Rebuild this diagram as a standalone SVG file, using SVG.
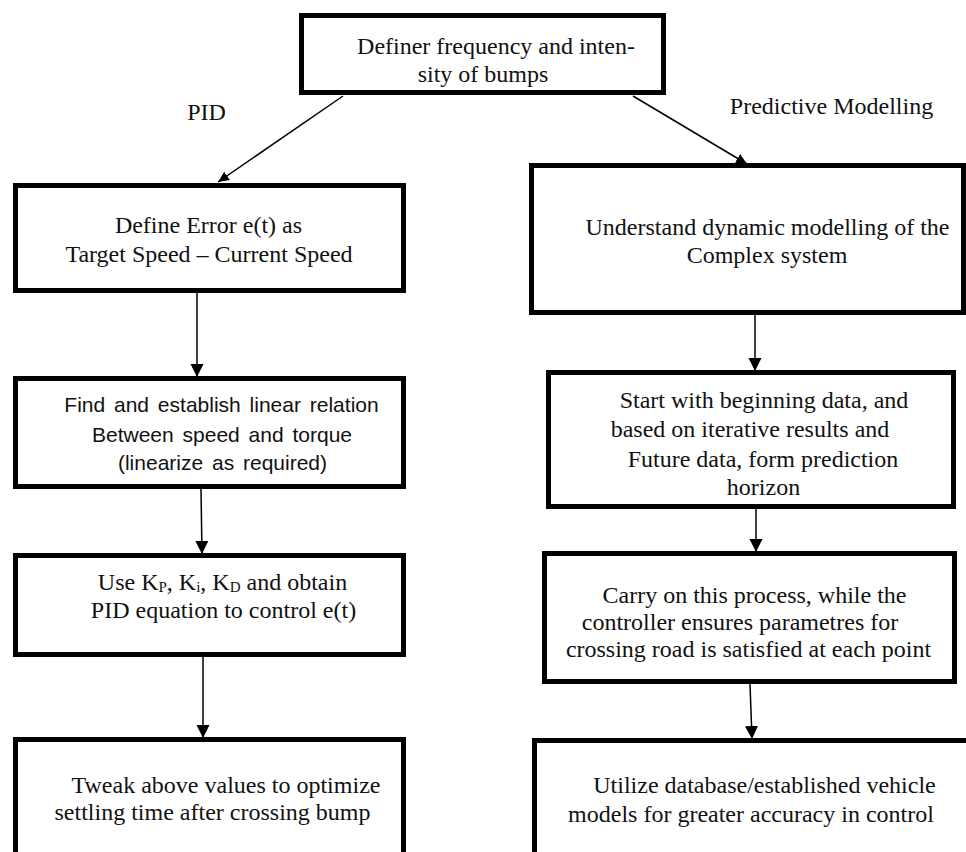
<svg xmlns="http://www.w3.org/2000/svg" width="966" height="852" viewBox="0 0 966 852">
<style>
.box{fill:#fff;stroke:#000;stroke-width:5}
.t{font-family:"Liberation Serif","Times New Roman",serif;font-size:24px;fill:#111;text-anchor:middle}
.s{font-family:"Liberation Sans",Arial,sans-serif;font-size:21px;fill:#111;text-anchor:middle;word-spacing:3px}
.c{stroke:#000;stroke-width:1.5;fill:none;marker-end:url(#ah)}
.d{stroke:#000;stroke-width:1.5;fill:none;marker-end:url(#ahs)}
</style>
<defs>
<marker id="ah" markerUnits="userSpaceOnUse" markerWidth="14" markerHeight="14" viewBox="0 0 14 14" refX="13" refY="7" orient="auto">
<path d="M0,0.5 L13,7 L0,13.5 Z" fill="#000"/>
</marker>
<marker id="ahs" markerUnits="userSpaceOnUse" markerWidth="12" markerHeight="12" viewBox="0 0 12 12" refX="11" refY="6" orient="auto">
<path d="M0,1 L11,6 L0,11 Z" fill="#000"/>
</marker>
</defs>
<rect width="966" height="852" fill="#fff"/>
<g id="connectors">
<line class="d" x1="343" y1="96" x2="218" y2="182"/>
<line class="d" x1="633" y1="96" x2="747" y2="164"/>
<line class="c" x1="197" y1="293" x2="197" y2="377"/>
<line class="c" x1="201" y1="489" x2="202" y2="554"/>
<line class="c" x1="203" y1="657" x2="203" y2="738"/>
<line class="c" x1="755" y1="315" x2="755" y2="371"/>
<line class="c" x1="756" y1="509" x2="756" y2="552"/>
<line class="c" x1="750" y1="684" x2="752" y2="739"/>
</g>
<g id="labels">
<text class="t" x="206.5" y="120">PID</text>
<text class="t" x="831.5" y="114">Predictive Modelling</text>
</g>
<g id="n-top">
<rect class="box" x="301.5" y="15.5" width="362" height="77"/>
<text class="t" x="496" y="54">Definer frequency and inten-</text>
<text class="t" x="483" y="82">sity of bumps</text>
</g>
<g id="n-error">
<rect class="box" x="15.5" y="185.5" width="388" height="105"/>
<text class="t" x="208.5" y="233">Define Error e(t) as</text>
<text class="t" x="209" y="262">Target Speed – Current Speed</text>
</g>
<g id="n-linear">
<rect class="box" x="15.5" y="378.5" width="388" height="108"/>
<text class="s" x="221.5" y="412">Find and establish linear relation</text>
<text class="s" x="222" y="442">Between speed and torque</text>
<text class="s" x="222.5" y="470">(linearize  as required)</text>
</g>
<g id="n-pid">
<rect class="box" x="15.5" y="555.5" width="388" height="99"/>
<text class="t" x="222.5" y="590">Use K<tspan font-size="15" dy="2">P</tspan><tspan dy="-2">, K</tspan><tspan font-size="15" dy="2">i</tspan><tspan dy="-2">, K</tspan><tspan font-size="15" dy="2">D</tspan><tspan dy="-2"> and obtain</tspan></text>
<text class="t" x="223.5" y="618">PID equation to control e(t)</text>
</g>
<g id="n-tweak">
<rect class="box" x="15.5" y="739.5" width="388" height="200"/>
<text class="t" x="226" y="793">Tweak above values to optimize</text>
<text class="t" x="212.5" y="820">settling time after crossing bump</text>
</g>
<g id="n-understand">
<rect class="box" x="531.5" y="165.5" width="432" height="147"/>
<text class="t" x="767.5" y="235">Understand dynamic modelling of the</text>
<text class="t" x="767" y="263">Complex system</text>
</g>
<g id="n-start">
<rect class="box" x="548.5" y="372.5" width="405" height="134"/>
<text class="t" x="764" y="408">Start with beginning data, and</text>
<text class="t" x="750" y="437">based on iterative results and</text>
<text class="t" x="763" y="467">Future data, form prediction</text>
<text class="t" x="763.5" y="495">horizon</text>
</g>
<g id="n-carry">
<rect class="box" x="544.5" y="553.5" width="410" height="128"/>
<text class="t" x="754.5" y="603">Carry on this process,  while the</text>
<text class="t" x="740" y="630">controller ensures parametres for</text>
<text class="t" x="748.5" y="657">crossing road is satisfied at each point</text>
</g>
<g id="n-utilize">
<rect class="box" x="534.5" y="740.5" width="440" height="200"/>
<text class="t" x="764.5" y="793">Utilize database/established vehicle</text>
<text class="t" x="751" y="822">models for greater accuracy in control</text>
</g>
</svg>
